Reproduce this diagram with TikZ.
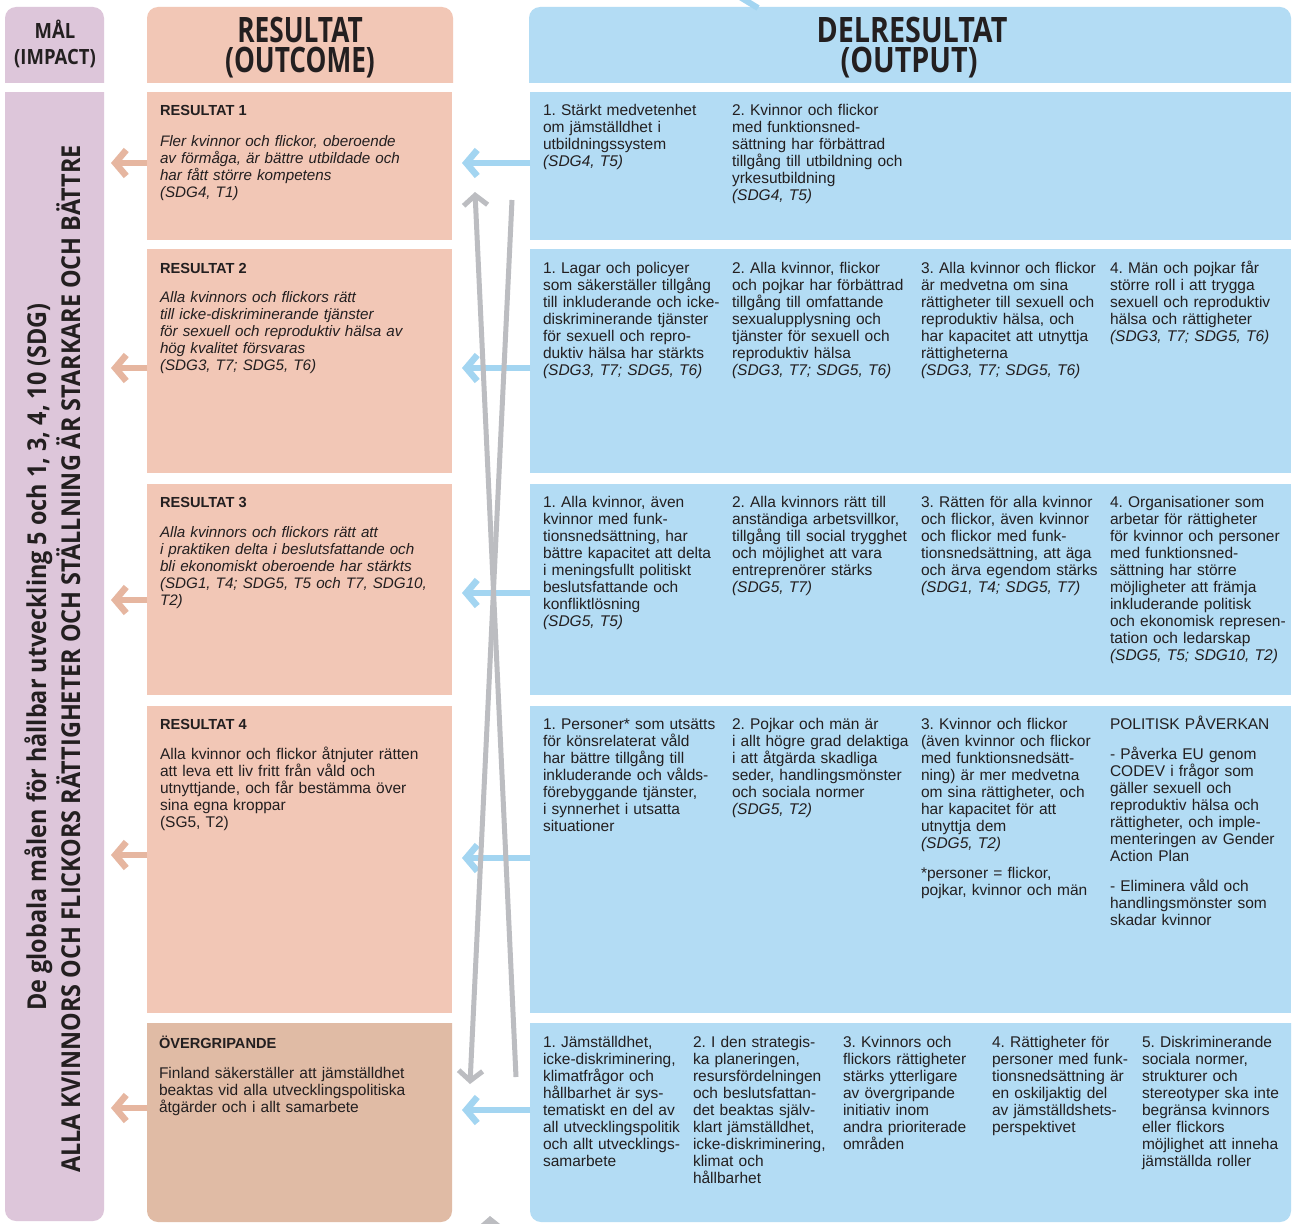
\documentclass[tikz,border=0pt]{standalone}
\usepackage{fontspec}
\setmainfont{Liberation Sans}
\newfontfamily\hfA[FakeStretch=0.75]{Open Sans}
\newfontfamily\hfC[FakeStretch=0.82]{Open Sans}
\newfontfamily\hfB[FakeStretch=0.88]{Open Sans}
\newfontfamily\vfont[FakeStretch=0.9]{Open Sans}
\usetikzlibrary{arrows.meta}
\definecolor{cMauve}{HTML}{DDC6DA}
\definecolor{cSalmon}{HTML}{F2C7B6}
\definecolor{cTan}{HTML}{E0BBA5}
\definecolor{cSky}{HTML}{B3DCF4}
\definecolor{cSkyArr}{HTML}{A3D5F1}
\definecolor{cSalArr}{HTML}{E6B6A0}
\definecolor{cGrey}{HTML}{BCBDC1}
\definecolor{cInk}{HTML}{231F20}
\newcommand\topround[5]{\begin{scope}\clip (#1,#2) rectangle (#3,#4);\fill[#5,rounded corners=11pt] (#1,#2) rectangle (#3,#4+30);\end{scope}}
\newcommand\botround[5]{\begin{scope}\clip (#1,#2) rectangle (#3,#4);\fill[#5,rounded corners=11pt] (#1,#2-30) rectangle (#3,#4);\end{scope}}
\begin{document}
\frenchspacing
\begin{tikzpicture}[x=1pt,y=-1pt,
  every node/.style={inner sep=0pt, outer sep=0pt, text=cInk},
  cell/.style 2 args={anchor=north west, minimum width=#1, minimum height=#2, draw=none},
  body/.style={anchor=base west, align=left, text width=285pt, font=\fontsize{15.5}{17}\selectfont},
  ttl/.style={anchor=base west, font=\fontsize{14.6}{17}\selectfont\bfseries},
  blu/.style={anchor=base west, align=left, text width=200pt, font=\fontsize{15.5}{17}\selectfont},
  hdA/.style={anchor=base, text height=24pt, text depth=3pt, font=\hfA\bfseries\fontsize{35}{31}\selectfont},
  hdC/.style={anchor=base, text height=24pt, text depth=3pt, font=\hfC\bfseries\fontsize{35}{31}\selectfont},
  hdB/.style={anchor=base, text height=15pt, text depth=3pt, font=\hfB\bfseries\fontsize{21}{25}\selectfont},
  salarrow/.style={draw=cSalArr, line width=6.5pt, shorten >=7pt, -{Straight Barb[length=11pt,width=26pt]}},
  skyarrow/.style={draw=cSkyArr, line width=6.5pt, shorten >=10pt, -{Straight Barb[length=11pt,width=26pt]}},
  greyarrow/.style={draw=cGrey, line width=5pt, -{Straight Barb[length=10pt,width=24pt]}}
]
\useasboundingbox (0,0) rectangle (1292,1223);
\fill[white] (0,0) rectangle (1292,1223);

% ---------- shapes ----------
\topround{5}{7}{104}{82}{cMauve}
\botround{5}{92}{104}{1221}{cMauve}
\topround{147}{7}{453}{82}{cSalmon}
\topround{529}{7}{1291}{82}{cSky}
\botround{147}{1023}{452}{1222}{cTan}
\botround{530}{1023}{1291}{1222}{cSky}

\node[cell={99pt}{75pt}] (hmal) at (5,7) {};
\node[cell={99pt}{1129pt}] (mal) at (5,92) {};
\node[cell={306pt}{75pt}] (hres) at (147,7) {};
\node[cell={762pt}{75pt}] (hdel) at (529,7) {};
\node[cell={305pt}{148pt}, fill=cSalmon] (r1) at (147,92) {};
\node[cell={305pt}{224pt}, fill=cSalmon] (r2) at (147,249) {};
\node[cell={305pt}{211pt}, fill=cSalmon] (r3) at (147,484) {};
\node[cell={305pt}{307pt}, fill=cSalmon] (r4) at (147,706) {};
\node[cell={305pt}{199pt}] (r5) at (147,1023) {};
\node[cell={761pt}{148pt}, fill=cSky] (b1) at (530,92) {};
\node[cell={761pt}{224pt}, fill=cSky] (b2) at (530,249) {};
\node[cell={761pt}{211pt}, fill=cSky] (b3) at (530,484) {};
\node[cell={761pt}{307pt}, fill=cSky] (b4) at (530,706) {};
\node[cell={761pt}{199pt}] (b5) at (530,1023) {};

% ---------- headers ----------
\node[hdB] (tmal1) at (55,39) {MÅL};
\node[hdB] (tmal2) at (55,64) {(IMPACT)};
\node[hdA] (tres1) at (300,42) {RESULTAT};
\node[hdA] (tres2) at (300,72) {(OUTCOME)};
\node[hdC] (tdel1) at (912,42) {DELRESULTAT};
\node[hdC] (tdel2) at (909,72) {(OUTPUT)};

% ---------- vertical goal text ----------
\node[rotate=90, anchor=base, font=\vfont\bfseries\fontsize{26}{26}\selectfont] (g1) at (46,657) {De globala målen för hållbar utveckling 5 och 1, 3, 4, 10 (SDG)};
\node[rotate=90, anchor=base, font=\vfont\bfseries\fontsize{26}{26}\selectfont] (g2) at (80,659) {ALLA KVINNORS OCH FLICKORS RÄTTIGHETER OCH STÄLLNING ÄR STARKARE OCH BÄTTRE};

% ---------- result texts ----------
\node[ttl] (r1t) at (160,115) {RESULTAT 1};
\node[body, font=\fontsize{15.2}{17}\selectfont\itshape] (r1b) at (160,146) {Fler kvinnor och flickor, oberoende\\ av förmåga, är bättre utbildade och\\ har fått större kompetens\\ (SDG4, T1)};
\node[ttl] (r2t) at (160,273) {RESULTAT 2};
\node[body, font=\fontsize{15.2}{17}\selectfont\itshape] (r2b) at (160,302) {Alla kvinnors och flickors rätt\\ till icke-diskriminerande tjänster\\ för sexuell och reproduktiv hälsa av\\ hög kvalitet försvaras\\ (SDG3, T7; SDG5, T6)};
\node[ttl] (r3t) at (160,507) {RESULTAT 3};
\node[body, font=\fontsize{15.2}{17}\selectfont\itshape] (r3b) at (160,537) {Alla kvinnors och flickors rätt att\\ i praktiken delta i beslutsfattande och\\ bli ekonomiskt oberoende har stärkts\\ (SDG1, T4; SDG5, T5 och T7, SDG10,\\ T2)};
\node[ttl] (r4t) at (160,729) {RESULTAT 4};
\node[body] (r4b) at (160,759) {Alla kvinnor och flickor åtnjuter rätten\\ att leva ett liv fritt från våld och\\ utnyttjande, och får bestämma över\\ sina egna kroppar\\ (SG5, T2)};
\node[ttl] (r5t) at (159,1048) {ÖVERGRIPANDE};
\node[body] (r5b) at (159,1078) {Finland säkerställer att jämställdhet\\ beaktas vid alla utvecklingspolitiska\\ åtgärder och i allt samarbete};

% ---------- output texts ----------
\node[blu] (b11) at (543,115) {1. Stärkt medvetenhet\\ om jämställdhet i\\ utbildningssystem\\ \textit{(SDG4, T5)}};
\node[blu] (b12) at (732,115) {2. Kvinnor och flickor\\ med funktionsned-\\ sättning har förbättrad\\ tillgång till utbildning och\\ yrkesutbildning\\ \textit{(SDG4, T5)}};

\node[blu] (b21) at (543,273) {1. Lagar och policyer\\ som säkerställer tillgång\\ till inkluderande och icke-\\ diskriminerande tjänster\\ för sexuell och repro-\\ duktiv hälsa har stärkts\\ \textit{(SDG3, T7; SDG5, T6)}};
\node[blu] (b22) at (732,273) {2. Alla kvinnor, flickor\\ och pojkar har förbättrad\\ tillgång till omfattande\\ sexualupplysning och\\ tjänster för sexuell och\\ reproduktiv hälsa\\ \textit{(SDG3, T7; SDG5, T6)}};
\node[blu] (b23) at (921,273) {3. Alla kvinnor och flickor\\ är medvetna om sina\\ rättigheter till sexuell och\\ reproduktiv hälsa, och\\ har kapacitet att utnyttja\\ rättigheterna\\ \textit{(SDG3, T7; SDG5, T6)}};
\node[blu] (b24) at (1110,273) {4. Män och pojkar får\\ större roll i att trygga\\ sexuell och reproduktiv\\ hälsa och rättigheter\\ \textit{(SDG3, T7; SDG5, T6)}};

\node[blu] (b31) at (543,507) {1. Alla kvinnor, även\\ kvinnor med funk-\\ tionsnedsättning, har\\ bättre kapacitet att delta\\ i meningsfullt politiskt\\ beslutsfattande och\\ konfliktlösning\\ \textit{(SDG5, T5)}};
\node[blu] (b32) at (732,507) {2. Alla kvinnors rätt till\\ anständiga arbetsvillkor,\\ tillgång till social trygghet\\ och möjlighet att vara\\ entreprenörer stärks\\ \textit{(SDG5, T7)}};
\node[blu] (b33) at (921,507) {3. Rätten för alla kvinnor\\ och flickor, även kvinnor\\ och flickor med funk-\\ tionsnedsättning, att äga\\ och ärva egendom stärks\\ \textit{(SDG1, T4; SDG5, T7)}};
\node[blu] (b34) at (1110,507) {4. Organisationer som\\ arbetar för rättigheter\\ för kvinnor och personer\\ med funktionsned-\\ sättning har större\\ möjligheter att främja\\ inkluderande politisk\\ och ekonomisk represen-\\ tation och ledarskap\\ \textit{(SDG5, T5; SDG10, T2)}};

\node[blu] (b41) at (543,729) {1. Personer* som utsätts\\ för könsrelaterat våld\\ har bättre tillgång till\\ inkluderande och vålds-\\ förebyggande tjänster,\\ i synnerhet i utsatta\\ situationer};
\node[blu] (b42) at (732,729) {2. Pojkar och män är\\ i allt högre grad delaktiga\\ i att åtgärda skadliga\\ seder, handlingsmönster\\ och sociala normer\\ \textit{(SDG5, T2)}};
\node[blu] (b43) at (921,729) {3. Kvinnor och flickor\\ (även kvinnor och flickor\\ med funktionsnedsätt-\\ ning) är mer medvetna\\ om sina rättigheter, och\\ har kapacitet för att\\ utnyttja dem\\ \textit{(SDG5, T2)}\\[13pt] *personer = flickor,\\ pojkar, kvinnor och män};
\node[blu] (b44) at (1110,729) {POLITISK PÅVERKAN\\[13pt] - Påverka EU genom\\ CODEV i frågor som\\ gäller sexuell och\\ reproduktiv hälsa och\\ rättigheter, och imple-\\ menteringen av Gender\\ Action Plan\\[13pt] - Eliminera våld och\\ handlingsmönster som\\ skadar kvinnor};

\node[blu] (b51) at (543,1047) {1. Jämställdhet,\\ icke-diskriminering,\\ klimatfrågor och\\ hållbarhet är sys-\\ tematiskt en del av\\ all utvecklingspolitik\\ och allt utvecklings-\\ samarbete};
\node[blu] (b52) at (693,1047) {2. I den strategis-\\ ka planeringen,\\ resursfördelningen\\ och beslutsfattan-\\ det beaktas själv-\\ klart jämställdhet,\\ icke-diskriminering,\\ klimat och\\ hållbarhet};
\node[blu] (b53) at (843,1047) {3. Kvinnors och\\ flickors rättigheter\\ stärks ytterligare\\ av övergripande\\ initiativ inom\\ andra prioriterade\\ områden};
\node[blu] (b54) at (992,1047) {4. Rättigheter för\\ personer med funk-\\ tionsnedsättning är\\ en oskiljaktig del\\ av jämställdshets-\\ perspektivet};
\node[blu] (b55) at (1142,1047) {5. Diskriminerande\\ sociala normer,\\ strukturer och\\ stereotyper ska inte\\ begränsa kvinnors\\ eller flickors\\ möjlighet att inneha\\ jämställda roller};

% ---------- connectors ----------
\coordinate (s1) at (147,163);
\coordinate (s2) at (147,368);
\coordinate (s3) at (147,600);
\coordinate (s4) at (147,855);
\coordinate (s5) at (147,1108);
\foreach \i in {1,...,5} {\draw[salarrow] (s\i) -- (s\i -| mal.east);}
\coordinate (k1) at (530,163);
\coordinate (k2) at (530,368);
\coordinate (k3) at (530,593);
\coordinate (k4) at (530,858);
\coordinate (k5) at (530,1110);
\foreach \i in {1,...,5} {\draw[skyarrow] (k\i) -- (k\i -| r1.east);}

\coordinate (gA1) at (516,1077);
\coordinate (gA2) at (475,192);
\coordinate (gB1) at (512,200);
\coordinate (gB2) at (470,1084);
\draw[greyarrow] (gA1) -- (gA2);
\draw[greyarrow] (gB1) -- (gB2);
% partial arrow tip at the bottom edge and cut line at the top edge
\coordinate (gC1) at (491,1260);
\coordinate (gC2) at (490,1216);
\draw[greyarrow] (gC1) -- (gC2);
\coordinate (kT1) at (735,-6);
\coordinate (kT2) at (758,8);
\draw[draw=cSkyArr, line width=6pt] (kT1) -- (kT2);
\end{tikzpicture}
\end{document}
